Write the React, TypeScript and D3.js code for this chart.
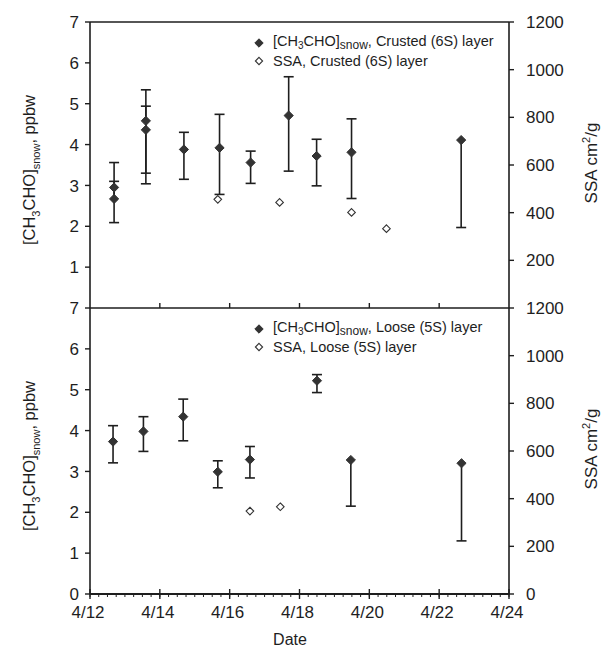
import React from "react";
import * as d3 from "d3";

// ---- data (day of April, fractional) ----
const crustedDate = [12.69, 12.69, 13.6, 13.6, 14.69, 15.71, 16.6, 17.69, 18.49, 19.49, 22.63];
const crustedConc = [2.95, 2.67, 4.58, 4.36, 3.88, 3.92, 3.56, 4.71, 3.72, 3.81, 4.11];
const crustedLow = [2.09, 2.67, 3.3, 3.04, 3.15, 2.78, 3.05, 3.35, 2.99, 2.68, 1.97];
const crustedHigh = [3.56, 3.1, 5.34, 4.94, 4.3, 4.74, 3.84, 5.66, 4.13, 4.63, 4.11];
const crustedSSADate = [15.66, 17.43, 19.49, 20.49];
const crustedSSA = [456, 443, 401, 333];

const looseDate = [12.66, 13.53, 14.67, 15.66, 16.58, 18.5, 19.47, 22.64];
const looseConc = [3.73, 3.98, 4.34, 2.99, 3.29, 5.22, 3.28, 3.2];
const looseLow = [3.21, 3.49, 3.75, 2.6, 2.84, 4.93, 2.15, 1.3];
const looseHigh = [4.12, 4.34, 4.77, 3.26, 3.61, 5.37, 3.28, 3.2];
const looseSSADate = [16.58, 17.45];
const looseSSA = [348, 366];

const xTickDays = [12, 14, 16, 18, 20, 22, 24];
const xTickLabels = ["4/12", "4/14", "4/16", "4/18", "4/20", "4/22", "4/24"];
const concTicks = [0, 1, 2, 3, 4, 5, 6, 7];
const ssaTicks = [0, 200, 400, 600, 800, 1000, 1200];

const W = 614, H = 650;
const FONT = "'Liberation Sans', Arial, Helvetica, sans-serif";
const INK = "#1e1e1e";

const x = d3.scaleLinear().domain([12, 24]).range([90, 509]);

function diamond(cx: number, cy: number, r: number) {
  return `M${cx},${cy - r}L${cx + r},${cy}L${cx},${cy + r}L${cx - r},${cy}Z`;
}

type PanelProps = {
  top: number;
  bottom: number;
  showZero: boolean;
  dates: number[];
  conc: number[];
  low: number[];
  high: number[];
  ssaDates: number[];
  ssa: number[];
  layer: string;
};

function Panel(p: PanelProps) {
  const y = d3.scaleLinear().domain([0, 7]).range([p.bottom, p.top]);
  const yr = d3.scaleLinear().domain([0, 1200]).range([p.bottom, p.top]);
  const x0 = x.range()[0], x1 = x.range()[1];
  const midY = (p.top + p.bottom) / 2;
  const capW = 5;
  const legX = 259;
  const legY1 = p.top + 21;
  const legY2 = p.top + 39;
  return (
    <g>
      <line x1={x0} x2={x0} y1={p.top} y2={p.bottom} stroke={INK} strokeWidth={1.6} />
      <line x1={x1} x2={x1} y1={p.top} y2={p.bottom} stroke={INK} strokeWidth={1.6} />
      <line x1={x0} x2={x1} y1={p.top} y2={p.top} stroke={INK} strokeWidth={1.6} />
      {concTicks.filter(t => p.showZero || t > 0).map(t => (
        <g key={"l" + t}>
          <line x1={x0 - 5} x2={x0} y1={y(t)} y2={y(t)} stroke={INK} strokeWidth={1.4} />
          <text x={x0 - 11} y={y(t)} dy="0.36em" textAnchor="end" fontSize={17} fill={INK}>{t}</text>
        </g>
      ))}
      {ssaTicks.filter(t => p.showZero || t > 0).map(t => (
        <g key={"r" + t}>
          <line x1={x1} x2={x1 + 5} y1={yr(t)} y2={yr(t)} stroke={INK} strokeWidth={1.4} />
          <text x={x1 + 17} y={yr(t)} dy="0.36em" textAnchor="start" fontSize={17} fill={INK}>{t}</text>
        </g>
      ))}
      <text transform={`translate(35,${midY + 5}) rotate(-90)`} textAnchor="middle" fontSize={16.5} fill={INK}>
        [CH<tspan fontSize={11} dy={5}>3</tspan><tspan dy={-5}>CHO]</tspan><tspan fontSize={11} dy={5}>snow</tspan><tspan dy={-5}>, ppbw</tspan>
      </text>
      <text transform={`translate(597,${midY - 2}) rotate(-90)`} textAnchor="middle" fontSize={17} fill={INK}>
        SSA cm<tspan fontSize={11} dy={-7}>2</tspan><tspan dy={7}>/g</tspan>
      </text>
      <path d={diamond(legX, legY1, 4.2)} fill="#333" stroke="#333" strokeWidth={1} />
      <path d={diamond(legX, legY2, 3.6)} fill="white" stroke="#333" strokeWidth={1.1} />
      <text x={legX + 14} y={legY1 + 3} fontSize={14.5} fill={INK}>
        [CH<tspan fontSize={10} dy={3}>3</tspan><tspan dy={-3}>CHO]</tspan><tspan fontSize={12} dy={3}>snow</tspan><tspan dy={-3}>, {p.layer} layer</tspan>
      </text>
      <text x={legX + 14} y={legY2 + 5} fontSize={14.5} fill={INK}>SSA, {p.layer} layer</text>
      {p.dates.map((d, i) => {
        const cx = x(d);
        return (
          <g key={"e" + i}>
            <line x1={cx} x2={cx} y1={y(p.low[i])} y2={y(p.high[i])} stroke={INK} strokeWidth={1.6} />
            {p.high[i] !== p.conc[i] && (
              <line x1={cx - capW} x2={cx + capW} y1={y(p.high[i])} y2={y(p.high[i])} stroke={INK} strokeWidth={1.6} />
            )}
            {p.low[i] !== p.conc[i] && (
              <line x1={cx - capW} x2={cx + capW} y1={y(p.low[i])} y2={y(p.low[i])} stroke={INK} strokeWidth={1.6} />
            )}
          </g>
        );
      })}
      {p.dates.map((d, i) => (
        <path key={"m" + i} d={diamond(x(d), y(p.conc[i]), 4.6)} fill="#333" stroke="#333" strokeWidth={1} />
      ))}
      {p.ssaDates.map((d, i) => (
        <path key={"s" + i} d={diamond(x(d), yr(p.ssa[i]), 3.8)} fill="white" stroke="#333" strokeWidth={1.1} />
      ))}
    </g>
  );
}

export default function App() {
  const topT = 22, mid = 308, bot = 594;
  const minor = d3.range(12, 24.001, 0.25);
  return (
    <svg width={W} height={H} style={{ position: "absolute", left: 0, top: 0, background: "white" }} fontFamily={FONT}>
      <rect x={0} y={0} width={W} height={H} fill="white" />
      <Panel top={topT} bottom={mid} showZero={false} dates={crustedDate} conc={crustedConc} low={crustedLow} high={crustedHigh}
        ssaDates={crustedSSADate} ssa={crustedSSA} layer="Crusted (6S)" />
      <Panel top={mid} bottom={bot} showZero={true} dates={looseDate} conc={looseConc} low={looseLow} high={looseHigh}
        ssaDates={looseSSADate} ssa={looseSSA} layer="Loose (5S)" />
      {xTickDays.slice(1, -1).map(d => (
        <line key={"tt" + d} x1={x(d)} x2={x(d)} y1={mid - 5} y2={mid} stroke={INK} strokeWidth={1.4} />
      ))}
      <line x1={x(12)} x2={x(24)} y1={bot} y2={bot} stroke={INK} strokeWidth={1.8} />
      {minor.map((d, i) => (
        <line key={"mn" + i} x1={x(d)} x2={x(d)} y1={bot} y2={bot + 3} stroke={INK} strokeWidth={1} />
      ))}
      {xTickDays.map((d, i) => (
        <g key={"xt" + d}>
          <line x1={x(d)} x2={x(d)} y1={bot - 5} y2={bot + 5} stroke={INK} strokeWidth={1.4} />
          <text x={x(d) - 2} y={bot + 24} textAnchor="middle" fontSize={17} fill={INK}>{xTickLabels[i]}</text>
        </g>
      ))}
      <text x={290} y={645} textAnchor="middle" fontSize={16} fill={INK}>Date</text>
    </svg>
  );
}
